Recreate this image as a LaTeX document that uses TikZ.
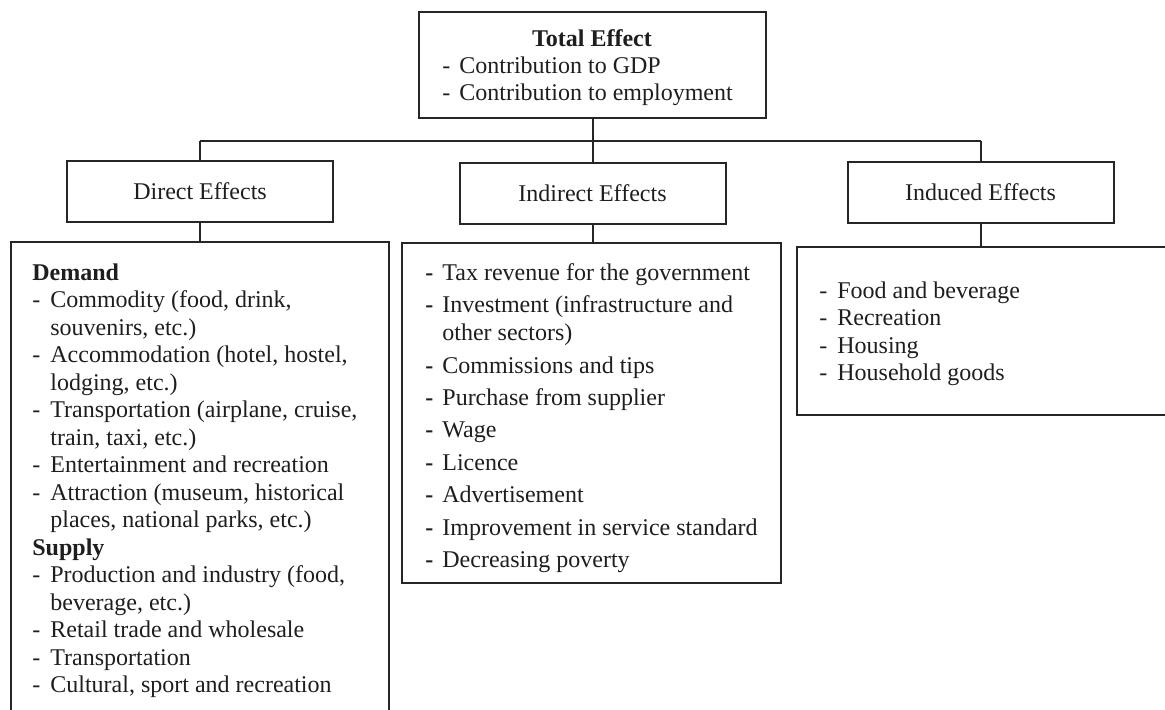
\documentclass[tikz,border=0pt]{standalone}
\usepackage{fontspec}
\setmainfont{Liberation Serif}
\definecolor{ln}{HTML}{262626}
\definecolor{tx}{HTML}{1E1E1E}
\newcommand{\mydash}{\makebox[9pt][l]{-}}
\newcommand{\mybdash}{\makebox[8.5pt][l]{\textbf{-}}}
\newcommand{\myind}{\hspace*{9pt}}
\tikzset{
  box/.style={draw=ln, line width=1pt, inner sep=0pt},
  lab/.style={box, minimum width=133pt, minimum height=30.5pt, font=\fontsize{12pt}{14pt}\selectfont, text=tx},
  txt/.style={inner sep=0pt, anchor=base west, font=\fontsize{12pt}{14pt}\selectfont, text=tx},
  conn/.style={draw=ln, line width=1pt}
}
\begin{document}
\begin{tikzpicture}[x=0.5pt, y=-0.5pt]
\useasboundingbox (0,0) rectangle (1165,709);
\clip (0,0) rectangle (1165,709);
% top box
\node[box, minimum width=173.5pt, minimum height=53pt] (top) at (592.5,65) {};
\node[txt, anchor=base] (t0) at (592,46) {\textbf{Total Effect}};
\node[txt] (t1) at (442,73) {\makebox[8.5pt][l]{-}Contribution to GDP};
\node[txt] (t2) at (442,100) {\makebox[8.5pt][l]{-}Contribution to employment};
% level 2 boxes
\node[lab] (direct) at (200,191.5) {Direct Effects};
\node[lab] (indirect) at (592.5,193.5) {Indirect Effects};
\node[lab] (induced) at (980.5,192) {Induced Effects};
% bus
\coordinate (busL) at (200,141);
\coordinate (busR) at (980.5,141);
\draw[conn] (busL) -- (busR);
\draw[conn] (top.south) -- (top.south |- busL);
\draw[conn] (busL) -- (direct.north);
\draw[conn] (indirect.north |- busL) -- (indirect.north);
\draw[conn] (busR) -- (induced.north);
% big boxes
\node[box, minimum width=189pt, minimum height=270pt] (dbox) at (200,512) {};
\node[box, minimum width=189.5pt, minimum height=170pt] (ibox) at (591.5,413) {};
\node[box, minimum width=220pt, minimum height=84pt] (ubox) at (1017,331) {};
\draw[conn] (direct.south) -- (direct.south |- dbox.north);
\draw[conn] (indirect.south) -- (indirect.south |- ibox.north);
\draw[conn] (induced.south) -- (induced.south |- ubox.north);
% direct effects list
\foreach \t [count=\i from 0] in {
  {\textbf{Demand}},
  {\mydash Commodity (food, drink,},
  {\myind souvenirs, etc.)},
  {\mydash Accommodation (hotel, hostel,},
  {\myind lodging, etc.)},
  {\mydash Transportation (airplane, cruise,},
  {\myind train, taxi, etc.)},
  {\mydash Entertainment and recreation},
  {\mydash Attraction (museum, historical},
  {\myind places, national parks, etc.)},
  {\textbf{Supply}},
  {\mydash Production and industry (food,},
  {\myind beverage, etc.)},
  {\mydash Retail trade and wholesale},
  {\mydash Transportation},
  {\mydash Cultural, sport and recreation}}
  \node[txt] (d\i) at (32,{280+27.5*\i}) {\t};
% indirect effects list
\foreach \y/\t [count=\i] in {
  280/{\mybdash Tax revenue for the government},
  312/{\mybdash Investment (infrastructure and},
  340/{\hspace*{8.5pt}other sectors)},
  373/{\mybdash Commissions and tips},
  405/{\mybdash Purchase from supplier},
  437/{\mybdash Wage},
  470/{\mybdash Licence},
  502/{\mybdash Advertisement},
  535/{\mybdash Improvement in service standard},
  567/{\mybdash Decreasing poverty}}
  \node[txt] (n\i) at (425,\y) {\t};
% induced effects list
\foreach \t [count=\i from 0] in {
  {\mydash Food and beverage},
  {\mydash Recreation},
  {\mydash Housing},
  {\mydash Household goods}}
  \node[txt] (u\i) at (819,{298+27.5*\i}) {\t};
\end{tikzpicture}
\end{document}
